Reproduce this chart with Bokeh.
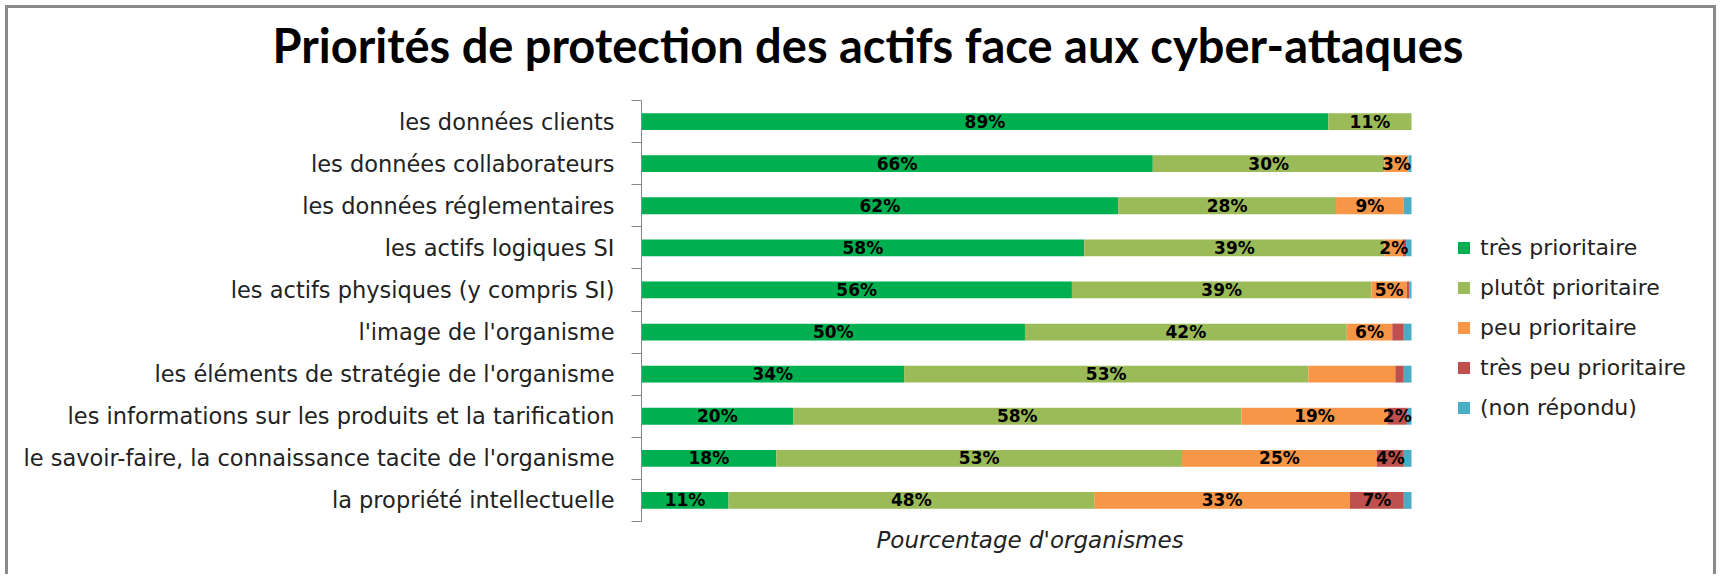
from bokeh.plotting import figure
from bokeh.models import ColumnDataSource, Range1d, FixedTicker, Legend, LegendItem, Title
from bokeh.core.properties import value
from bokeh.embed import file_html
from bokeh.resources import INLINE

# ---------------- data ----------------
categories = [
    "les données clients",
    "les données collaborateurs",
    "les données réglementaires",
    "les actifs logiques SI",
    "les actifs physiques (y compris SI)",
    "l'image de l'organisme",
    "les éléments de stratégie de l'organisme",
    "les informations sur les produits et la tarification",
    "le savoir-faire, la connaissance tacite de l'organisme",
    "la propriété intellectuelle",
]
series_names = ["très prioritaire", "plutôt prioritaire", "peu prioritaire",
                "très peu prioritaire", "(non répondu)"]

tres = [89.2, 66.4, 61.9, 57.5, 55.9, 49.8, 34.1, 19.7, 17.5, 11.3]
plutot = [10.8, 30.1, 28.3, 39.0, 38.9, 41.8, 52.5, 58.2, 52.7, 47.5]
peu = [0.0, 3.1, 8.8, 2.4, 4.6, 5.9, 11.3, 19.0, 25.3, 33.2]
tres_peu = [0.0, 0.0, 0.0, 0.4, 0.3, 1.5, 1.1, 2.5, 3.5, 7.0]
non = [0.0, 0.4, 1.0, 0.7, 0.3, 1.0, 1.0, 0.6, 1.0, 1.0]

lab_tres = ["89%", "66%", "62%", "58%", "56%", "50%", "34%", "20%", "18%", "11%"]
lab_plutot = ["11%", "30%", "28%", "39%", "39%", "42%", "53%", "58%", "53%", "48%"]
lab_peu = ["", "3%", "9%", "2%", "5%", "6%", "", "19%", "25%", "33%"]
lab_tres_peu = ["", "", "", "", "", "", "", "2%", "4%", "7%"]
lab_non = ["", "", "", "", "", "", "", "", "", ""]

colors = ["#00B050", "#9BBB59", "#F79646", "#C0504D", "#4BACC6"]

title_text = "Priorités de protection des actifs face aux cyber-attaques"
x_title = "Pourcentage d'organismes"

# ---------------- figure ----------------
N = len(categories)
ys = [i + 0.5 for i in range(N)]
series = [tres, plutot, peu, tres_peu, non]
labels = [lab_tres, lab_plutot, lab_peu, lab_tres_peu, lab_non]
keys = ["s%d" % k for k in range(len(series))]

src = {"y": ys}
for k, s in zip(keys, series):
    src[k] = s
source = ColumnDataSource(src)

TEXT = "#222222"

# frame spans to the right edge (invisible); 100 % ends at the bar end
p = figure(width=1711, height=569, x_range=Range1d(0, 140.0), y_range=Range1d(N, 0),
           output_backend="svg", toolbar_location=None,
           min_border_left=633, min_border_right=0,
           min_border_top=92, min_border_bottom=56)
p.styles = {"margin-left": "5px", "margin-top": "5px",
            "border-top": "3px solid #8a8a8a", "border-left": "3px solid #8a8a8a",
            "border-right": "3px solid #8a8a8a"}
p.background_fill_color = "white"
p.border_fill_color = "white"
p.outline_line_color = None
p.xgrid.visible = False
p.ygrid.visible = False
p.xaxis.visible = False

rends = p.hbar_stack(keys, y="y", height=0.4, color=colors, line_color=None,
                     source=source)

# data labels
lx, ly, lt = [], [], []
left = [0.0] * N
for s, labs in zip(series, labels):
    for i in range(N):
        if labs[i]:
            lx.append(left[i] + s[i] / 2.0)
            ly.append(ys[i])
            lt.append(labs[i])
        left[i] += s[i]
p.text(x="x", y="y", text="t", source=ColumnDataSource(dict(x=lx, y=ly, t=lt)),
       text_align="center", text_baseline="middle",
       text_font=value("DejaVu Sans"), text_font_style="bold",
       text_font_size="17px", text_color="black")

# y axis
ya = p.yaxis[0]
ya.ticker = FixedTicker(ticks=ys, minor_ticks=list(range(N + 1)))
ya.major_label_overrides = {y: c for y, c in zip(ys, categories)}
ya.major_tick_line_color = None
ya.major_tick_out = 0
ya.major_tick_in = 0
ya.minor_tick_line_color = "#868686"
ya.minor_tick_out = 10
ya.minor_tick_in = 0
ya.axis_line_color = "#868686"
ya.major_label_standoff = 17
ya.major_label_text_font = "DejaVu Sans"
ya.major_label_text_font_size = "22.5px"
ya.major_label_text_color = TEXT

# legend (inside the wide invisible frame, right of the bars)
leg = Legend(items=[LegendItem(label=n, renderers=[r]) for n, r in zip(series_names, rends)])
leg.location = (815, 101)
leg.glyph_width = 15
leg.glyph_height = 15
leg.label_height = 26
leg.spacing = 14
leg.padding = 0
leg.margin = 0
leg.label_standoff = 9
leg.border_line_color = None
leg.background_fill_alpha = 0
leg.label_text_font = "DejaVu Sans"
leg.label_text_font_size = "22px"
leg.label_text_color = TEXT
p.add_layout(leg)

# chart title (outermost panel above), with a blank spacer panel below it
p.title = Title(text=title_text, align="left", offset=-369, vertical_align="top",
                standoff=0, text_font="Lato", text_font_style="bold",
                text_font_size="47px", text_color="black")
p.add_layout(Title(text=" ", text_font_size="10px", standoff=13), "above")

# x axis title (below the bars)
p.add_layout(Title(text=x_title, align="left", offset=235, vertical_align="top",
                   standoff=10, text_font="DejaVu Sans", text_font_style="italic",
                   text_font_size="23px", text_color=TEXT), "below")

open("out.html", "w").write(file_html(p, INLINE))
